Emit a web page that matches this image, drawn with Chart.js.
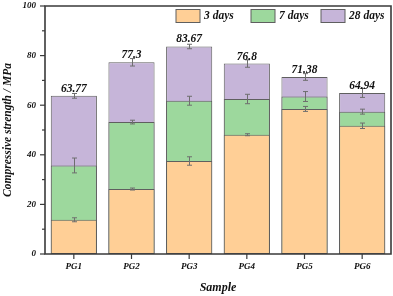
<!DOCTYPE html>
<html>
<head>
<meta charset="utf-8">
<script src="https://cdn.jsdelivr.net/npm/chart.js@4.4.1/dist/chart.umd.min.js"></script>
<style>
  html, body { margin: 0; padding: 0; background: #fff; }
  #wrap { width: 393px; height: 296px; }
</style>
</head>
<body>
<div id="wrap"><canvas id="chart"></canvas></div>
<script>
// samples and strengths (MPa) at each curing age
const samples = ['PG1', 'PG2', 'PG3', 'PG4', 'PG5', 'PG6']
const day3 = [13.8, 26.2, 37.5, 48.1, 58.5, 51.7]
const day7 = [35.7, 53.2, 61.8, 62.5, 63.5, 57.4]
const day28 = [63.77, 77.3, 83.67, 76.8, 71.38, 64.94]
const err3 = [0.8, 0.4, 1.7, 0.4, 1.0, 1.1]
const err7 = [3.0, 0.75, 1.8, 1.9, 2.0, 1.0]
const err28 = [0.95, 1.5, 0.9, 1.5, 1.35, 1.8]
const topLabels = ['63.77', '77.3', '83.67', '76.8', '71.38', '64.94']
const yTicks = [0, 20, 40, 60, 80, 100]

const serif = "'Liberation Serif', 'DejaVu Serif', serif"
const axisColor = '#3a3a3a'
const barBorder = '#5f5f5f'

// draws error bars, totals, axes with minor ticks, frame and the inside legend
const decorPlugin = {
    id: 'decor',
    afterDatasetsDraw(chart) {
        const ctx = chart.ctx
        const area = chart.chartArea
        const xs = chart.scales.x
        const ys = chart.scales.y
        ctx.save()

        // error bars
        ctx.strokeStyle = '#6e6e6e'
        ctx.lineWidth = 1
        chart.data.datasets.forEach(ds => {
            ds.data.forEach((v, i) => {
                const x = Math.round(xs.getPixelForValue(i)) + 0.5
                const y1 = ys.getPixelForValue(v + ds.errors[i])
                const y2 = ys.getPixelForValue(v - ds.errors[i])
                ctx.beginPath()
                ctx.moveTo(x, y1); ctx.lineTo(x, y2)
                ctx.moveTo(x - 2.5, y1); ctx.lineTo(x + 2.5, y1)
                ctx.moveTo(x - 2.5, y2); ctx.lineTo(x + 2.5, y2)
                ctx.stroke()
            })
        })

        // total labels above the 28 day bars
        ctx.fillStyle = '#111'
        ctx.font = "bold italic 11.5px " + serif
        ctx.textAlign = 'center'
        ctx.textBaseline = 'alphabetic'
        day28.forEach((v, i) => {
            ctx.fillText(topLabels[i], xs.getPixelForValue(i), ys.getPixelForValue(v) - 4)
        })

        // full frame
        ctx.strokeStyle = axisColor
        ctx.lineWidth = 1.6
        ctx.beginPath()
        ctx.moveTo(area.left, area.bottom)
        ctx.lineTo(area.left, area.top)
        ctx.lineTo(area.right, area.top)
        ctx.lineTo(area.right, area.bottom)
        ctx.lineTo(area.left - 0.8, area.bottom)
        ctx.stroke()

        // y ticks, major every 20, minor every 10
        ctx.lineWidth = 1.2
        for (let v = 0; v <= 100; v += 10) {
            const y = ys.getPixelForValue(v)
            const len = v % 20 === 0 ? 5 : 3
            ctx.beginPath()
            ctx.moveTo(area.left - len, y)
            ctx.lineTo(area.left, y)
            ctx.stroke()
        }
        // x ticks
        samples.forEach((s, i) => {
            const x = xs.getPixelForValue(i)
            ctx.beginPath()
            ctx.moveTo(x, area.bottom)
            ctx.lineTo(x, area.bottom + 5)
            ctx.stroke()
        })

        // legend inside plot, top right
        const legendItems = [
            { text: '3 days', x: 176, color: chart.data.datasets[0].backgroundColor },
            { text: '7 days', x: 251, color: chart.data.datasets[1].backgroundColor },
            { text: '28 days', x: 321, color: chart.data.datasets[2].backgroundColor }
        ]
        ctx.font = "bold italic 11.5px " + serif
        ctx.textAlign = 'left'
        ctx.textBaseline = 'middle'
        legendItems.forEach(item => {
            ctx.fillStyle = item.color
            ctx.fillRect(item.x, 9.5, 24, 13)
            ctx.strokeStyle = barBorder
            ctx.lineWidth = 1
            ctx.strokeRect(item.x, 9.5, 24, 13)
            ctx.fillStyle = '#111'
            ctx.fillText(item.text, item.x + 28, 16.5)
        })
        ctx.restore()
    }
}

new Chart(document.getElementById('chart'), {
    type: 'bar',
    data: {
        labels: samples,
        datasets: [
            { label: '3 days', data: day3, errors: err3, backgroundColor: '#ffcf96' },
            { label: '7 days', data: day7, errors: err7, backgroundColor: '#9dd89d' },
            { label: '28 days', data: day28, errors: err28, backgroundColor: '#c6b5d9' }
        ]
    },
    plugins: [decorPlugin],
    options: {
        animation: false,
        responsive: true,
        maintainAspectRatio: false,
        layout: { padding: { top: 6, right: 2, left: 0, bottom: 0 } },
        datasets: {
            bar: {
                grouped: false,
                categoryPercentage: 1,
                barPercentage: 0.8,
                borderWidth: 1,
                borderColor: barBorder,
                borderSkipped: false
            }
        },
        plugins: {
            legend: { display: false },
            tooltip: { enabled: false }
        },
        scales: {
            x: {
                grid: { display: false, drawTicks: false },
                border: { display: false },
                ticks: {
                    color: '#111',
                    padding: 7,
                    font: { family: serif, size: 9, style: 'italic', weight: 'bold' }
                },
                title: {
                    display: true,
                    text: 'Sample',
                    color: '#111',
                    padding: { top: 0, bottom: 1 },
                    font: { family: serif, size: 12, style: 'italic', weight: 'bold' }
                },
                afterFit: scale => {
                    scale.height = 42
                    scale.paddingLeft = 0
                    scale.paddingRight = 0
                }
            },
            y: {
                min: 0,
                max: 100,
                afterBuildTicks: scale => { scale.ticks = yTicks.map(v => ({ value: v })) },
                grid: { display: false, drawTicks: false },
                border: { display: false },
                ticks: {
                    color: '#111',
                    padding: 9,
                    font: { family: serif, size: 9, style: 'italic', weight: 'bold' }
                },
                title: {
                    display: true,
                    text: 'Compressive strength / MPa',
                    color: '#111',
                    padding: { top: 1, bottom: 0 },
                    font: { family: serif, size: 11.5, style: 'italic', weight: 'bold' }
                },
                afterFit: scale => {
                    scale.width = 45
                    scale.paddingTop = 0
                    scale.paddingBottom = 0
                }
            }
        }
    }
})
</script>
</body>
</html>
